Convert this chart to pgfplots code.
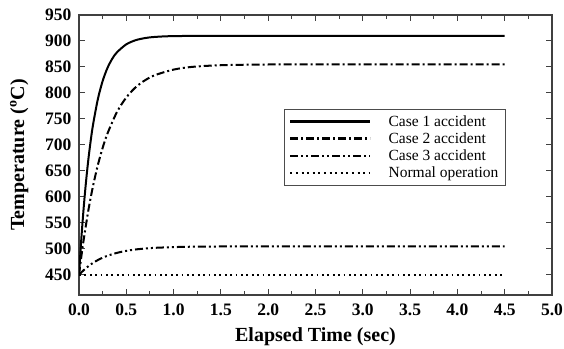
\documentclass[border=0pt]{standalone}
\usepackage{fontspec}
\setmainfont{Liberation Serif}
\usepackage{pgfplots}
\pgfplotsset{compat=1.18}
\begin{document}
\begin{tikzpicture}[x=1pt,y=1pt]
\path[use as bounding box] (0,0) rectangle (564,348);
\begin{axis}[
  at={(79pt,53pt)}, anchor=south west,
  scale only axis, width=473pt, height=280pt,
  xmin=0, xmax=5, ymin=411.5, ymax=950,
  xtick={0,0.5,...,5}, ytick={450,500,...,950},
  minor x tick num=1,
  tick align=inside,
  major tick length=6pt, minor tick length=4pt,
  /pgf/number format/assume math mode=true,
  ticklabel style={font=\fontsize{17.5}{19}\selectfont\bfseries},
  xticklabel style={/pgf/number format/fixed, /pgf/number format/fixed zerofill, /pgf/number format/precision=1, yshift=-5pt},
  yticklabel style={xshift=-4pt},
  axis line style={draw=black!75, line width=1.1pt},
  every tick/.style={black!75, line width=1pt},
  xlabel={\textbf{Elapsed Time (sec)}},
  ylabel={\textbf{Temperature (\textsuperscript{o}C)}},
  label style={font=\fontsize{20}{22}\selectfont},
  xlabel style={yshift=-5pt},
  ylabel style={yshift=10pt},
  legend style={at={(0.433,0.664)}, anchor=north west, draw=black!70,
    font=\fontsize{15.5}{18}\selectfont, row sep=1pt, column sep=15pt, inner xsep=5pt, inner ysep=4pt},
  legend cell align=left,
]
\addplot[black, line width=2pt, smooth,
  legend image code/.code={\draw[black, line width=2.2pt] (0pt,0pt) -- (80pt,0pt);}] coordinates {
(0,450) (0.025,520.6) (0.05,580.4) (0.075,631.0) (0.1,673.8) (0.125,710.1) (0.15,740.8)
(0.2,788.7) (0.25,823.1) (0.3,847.8) (0.35,865.4) (0.4,878.0) (0.5,893.6) (0.6,901.6)
(0.7,905.7) (0.8,907.8) (1.0,909.4) (1.5,910) (2.5,910) (3.5,910) (4.5,910)};
\addlegendentry{Case 1 accident}
\addplot[black, line width=2pt, dash pattern=on 8pt off 3pt on 2pt off 3pt, smooth,
  legend image code/.code={\draw[black, line width=2.6pt, dash pattern=on 8pt off 3pt on 2pt off 3pt] (0pt,0pt) -- (80pt,0pt);}] coordinates {
(0,450) (0.025,485.8) (0.05,518.4) (0.1,575.4) (0.15,622.6) (0.2,661.9) (0.25,694.5)
(0.3,721.6) (0.4,763.0) (0.5,791.4) (0.6,811.2) (0.7,824.7) (0.8,834.1) (1.0,845.0)
(1.2,850.3) (1.5,853.4) (2.0,854.8) (3.0,855) (4.5,855)};
\addlegendentry{Case 2 accident}
\addplot[black, line width=2pt, dash pattern=on 8pt off 3pt on 2pt off 3pt on 2pt off 3pt, smooth,
  legend image code/.code={\draw[black, line width=2.6pt, dash pattern=on 8pt off 3pt on 2pt off 3pt on 2pt off 3pt] (0pt,0pt) -- (80pt,0pt);}] coordinates {
(0,450) (0.025,454.9) (0.05,459.3) (0.1,467.1) (0.15,473.4) (0.2,478.8) (0.25,483.2)
(0.3,486.9) (0.4,492.5) (0.5,496.4) (0.6,499.1) (0.7,500.9) (0.8,502.2) (1.0,503.6)
(1.2,504.4) (1.5,504.8) (2.0,505) (3.0,505) (4.5,505)};
\addlegendentry{Case 3 accident}
\addplot[black, line width=1.8pt, dash pattern=on 1.8pt off 3.6pt,
  legend image code/.code={\draw[black, line width=2pt, dash pattern=on 2pt off 3.6pt] (0pt,0pt) -- (80pt,0pt);}] coordinates {(0,450) (4.5,450)};
\addlegendentry{Normal operation}
\end{axis}
\end{tikzpicture}
\end{document}
